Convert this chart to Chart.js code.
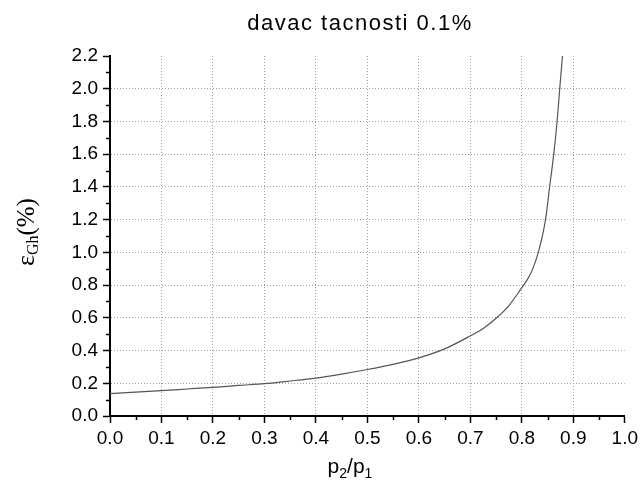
<!DOCTYPE html>
<html>
<head>
<meta charset="utf-8">
<script src="https://cdn.jsdelivr.net/npm/chart.js@4"></script>
<style>
  body { margin: 0; background: #fff; }
  #wrap { width: 642px; height: 493px; }
</style>
</head>
<body>
<div id="wrap"><canvas id="errchart" width="642" height="493"></canvas></div>
<script>
// p2/p1 ratio and error values
const ratioValues = [0, 0.05, 0.1, 0.15, 0.2, 0.25, 0.3, 0.35, 0.4, 0.45, 0.5, 0.55, 0.6, 0.65, 0.7, 0.725, 0.75, 0.775, 0.8, 0.81, 0.82, 0.832, 0.846, 0.854, 0.862, 0.8685, 0.8736, 0.879];
const errorValues = [0.137, 0.146, 0.155, 0.165, 0.175, 0.187, 0.198, 0.214, 0.232, 0.256, 0.284, 0.316, 0.355, 0.41, 0.49, 0.535, 0.597, 0.675, 0.785, 0.83, 0.89, 1.0, 1.2, 1.4, 1.6, 1.8, 2.0, 2.2];

const titleText = "davac tacnosti 0.1%";
const xMin = 0, xMax = 1.0, xStep = 0.05;
const yMin = 0, yMax = 2.2, yStep = 0.1;

const points = ratioValues.map((x, i) => ({ x: x, y: errorValues[i] }));

function isMajorX(v) { return Math.round(v * 20) % 2 === 0; }
function isMajorY(v) { return Math.round(v * 10) % 2 === 0; }

const labelsPlugin = {
    id: "labels",
    afterDraw(chart) {
        const ctx = chart.ctx;
        const area = chart.chartArea;
        const xs = chart.scales.x;
        const ys = chart.scales.y;

        // minor ticks
        ctx.save();
        ctx.strokeStyle = "#000";
        ctx.lineWidth = 1.5;
        xs.ticks.forEach(t => {
            if (!isMajorX(t.value)) {
                const px = Math.round(xs.getPixelForValue(t.value)) + 0.5;
                ctx.beginPath();
                ctx.moveTo(px, area.bottom);
                ctx.lineTo(px, area.bottom + 4);
                ctx.stroke();
            }
        });
        ys.ticks.forEach(t => {
            if (!isMajorY(t.value)) {
                const py = Math.round(ys.getPixelForValue(t.value)) + 0.5;
                ctx.beginPath();
                ctx.moveTo(area.left, py);
                ctx.lineTo(area.left - 4, py);
                ctx.stroke();
            }
        });
        ctx.restore();

        // title
        ctx.save();
        ctx.fillStyle = "#000";
        ctx.font = '22px "Liberation Sans", Arial, sans-serif';
        ctx.letterSpacing = "1.5px";
        ctx.textAlign = "center";
        ctx.textBaseline = "alphabetic";
        ctx.fillText(titleText, 360, 30);
        ctx.restore();

        // x axis title p2/p1
        ctx.save();
        ctx.fillStyle = "#000";
        ctx.textBaseline = "alphabetic";
        const mainFont = '21px "Liberation Sans", Arial, sans-serif';
        const subFont = '14px "Liberation Sans", Arial, sans-serif';
        const parts = [["p", mainFont, 0], ["2", subFont, 5], ["/p", mainFont, 0], ["1", subFont, 5]];
        let total = 0;
        parts.forEach(p => { ctx.font = p[1]; total += ctx.measureText(p[0]).width; });
        let cx = 350 - total / 2;
        parts.forEach(p => {
            ctx.font = p[1];
            ctx.fillText(p[0], cx, 473 + p[2]);
            cx += ctx.measureText(p[0]).width;
        });
        ctx.restore();

        // y axis title eps_Gh(%)
        ctx.save();
        ctx.fillStyle = "#000";
        ctx.translate(34, 266);
        ctx.rotate(-Math.PI / 2);
        ctx.textBaseline = "alphabetic";
        const serif = '"Liberation Serif", "Times New Roman", serif';
        const yparts = [["ε", "26px " + serif, 0], ["Gh", "16px " + serif, 4], ["(%)", "25px " + serif, 0]];
        let lx = 0;
        yparts.forEach(p => {
            ctx.font = p[1];
            ctx.fillText(p[0], lx, p[2]);
            lx += ctx.measureText(p[0]).width;
        });
        ctx.restore();
    }
};

const ctx = document.getElementById("errchart").getContext("2d");
new Chart(ctx, {
    type: "line",
    data: {
        datasets: [{
            data: points,
            borderColor: "#555555",
            borderWidth: 1.2,
            pointRadius: 0,
            fill: false,
            cubicInterpolationMode: "monotone"
        }]
    },
    options: {
        responsive: false,
        animation: false,
        layout: { padding: { top: 56, right: 15, left: 0, bottom: 0 } },
        plugins: {
            legend: { display: false },
            title: { display: false },
            tooltip: { enabled: false }
        },
        scales: {
            x: {
                type: "linear",
                min: xMin,
                max: xMax,
                afterFit: scale => { scale.height = 77; },
                ticks: {
                    stepSize: xStep,
                    autoSkip: false,
                    maxRotation: 0,
                    padding: 4,
                    color: "#000",
                    font: { family: '"Liberation Sans", Arial, sans-serif', size: 19 },
                    callback: v => isMajorX(v) ? (Math.round(v * 10) / 10).toFixed(1) : ""
                },
                grid: {
                    color: c => (c.tick && isMajorX(c.tick.value) && c.tick.value > 0.001 && c.tick.value < xMax - 0.001) ? "#a0a0a0" : "transparent",
                    tickColor: c => (c.tick && isMajorX(c.tick.value)) ? "#000" : "transparent",
                    tickLength: 7,
                    tickWidth: 1.5,
                    lineWidth: 1
                },
                border: { color: "#000", width: 2, dash: [1, 2] }
            },
            y: {
                type: "linear",
                min: yMin,
                max: yMax,
                afterFit: scale => { scale.width = 110; },
                ticks: {
                    stepSize: yStep,
                    autoSkip: false,
                    padding: 5,
                    color: "#000",
                    font: { family: '"Liberation Sans", Arial, sans-serif', size: 19 },
                    callback: v => isMajorY(v) ? (Math.round(v * 10) / 10).toFixed(1) : ""
                },
                grid: {
                    color: c => (c.tick && isMajorY(c.tick.value) && c.tick.value > 0.001 && c.tick.value < yMax - 0.001) ? "#a0a0a0" : "transparent",
                    tickColor: c => (c.tick && isMajorY(c.tick.value)) ? "#000" : "transparent",
                    tickLength: 7,
                    tickWidth: 1.5,
                    lineWidth: 1
                },
                border: { color: "#000", width: 2, dash: [1, 2] }
            }
        }
    },
    plugins: [labelsPlugin]
});
</script>
</body>
</html>
